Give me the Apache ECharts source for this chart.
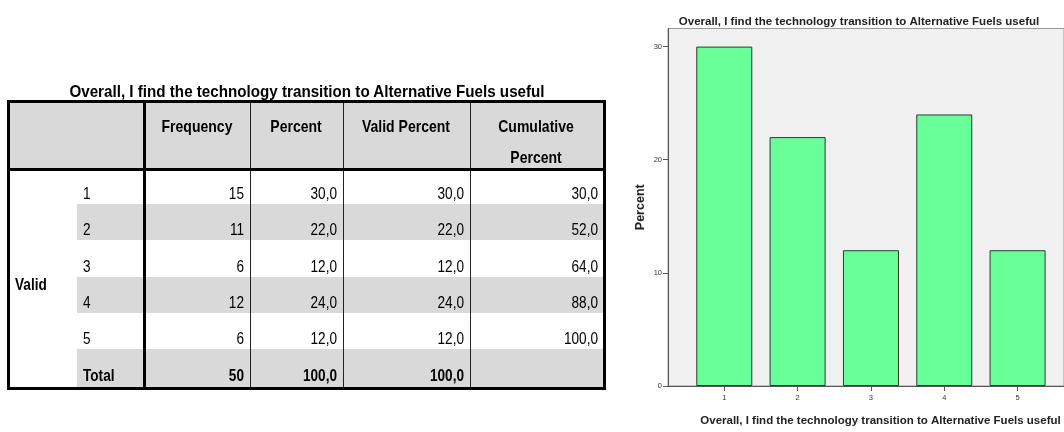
<!DOCTYPE html>
<html>
<head>
<meta charset="utf-8">
<script src="https://cdn.jsdelivr.net/npm/echarts@6/dist/echarts.min.js"></script>
<style>
  html, body { margin: 0; padding: 0; background: #ffffff; }
  #wrap { position: relative; width: 1064px; height: 432px; overflow: hidden; background: #fff; }
  #chart { position: absolute; left: 0; top: 0; width: 1064px; height: 432px; }
  #table { position: absolute; left: 0; top: 0; width: 640px; height: 432px; z-index: 2; }
  .t { position: absolute; white-space: pre; font-family: 'Liberation Sans', Arial, sans-serif; color: #000; }
  .ln { position: absolute; }
</style>
</head>
<body>
<div id="wrap">
  <div id="chart"></div>
  <div id="table"></div>
</div>
<script>
// ---------------- data ----------------
const chartTitle = 'Overall, I find the technology transition to Alternative Fuels useful';
const categories = ['1', '2', '3', '4', '5'];
const frequency = [15, 11, 6, 12, 6];
const percent = [30.0, 22.0, 12.0, 24.0, 12.0];
const validPercent = [30.0, 22.0, 12.0, 24.0, 12.0];
const cumulativePercent = [30.0, 52.0, 64.0, 88.0, 100.0];
const totalFrequency = 50;
const totalPercent = 100.0;
const totalValidPercent = 100.0;
const columnHeaders = ['Frequency', 'Percent', 'Valid Percent', 'Cumulative', 'Percent'];
const groupLabel = 'Valid';
const totalLabel = 'Total';
const yTicks = [0, 10, 20, 30];
const yAxisTitle = 'Percent';

// ---------------- table (HTML) ----------------
const tbl = document.getElementById('table');
function fmt(v) { return v.toFixed(1).replace('.', ','); }
function rect(x, y, w, h, color) {
  const d = document.createElement('div');
  d.className = 'ln';
  d.style.left = x + 'px'; d.style.top = y + 'px';
  d.style.width = w + 'px'; d.style.height = h + 'px';
  d.style.background = color;
  tbl.appendChild(d);
}
function text(str, x, y, align, size, bold, sx) {
  const d = document.createElement('div');
  d.className = 't';
  d.textContent = str;
  const lh = 22;
  d.style.fontSize = size + 'px';
  d.style.lineHeight = lh + 'px';
  d.style.fontWeight = bold ? 'bold' : 'normal';
  d.style.top = (y - lh / 2) + 'px';
  if (align === 'right') {
    d.style.left = (x - 300) + 'px'; d.style.width = '300px'; d.style.textAlign = 'right';
    d.style.transformOrigin = 'right center';
  } else if (align === 'center') {
    d.style.left = (x - 300) + 'px'; d.style.width = '600px'; d.style.textAlign = 'center';
    d.style.transformOrigin = 'center center';
  } else {
    d.style.left = x + 'px'; d.style.textAlign = 'left';
    d.style.transformOrigin = 'left center';
  }
  d.style.transform = 'scaleX(' + sx + ')';
  tbl.appendChild(d);
}

const L = 7, R = 606, T = 100, HB = 168, B = 390;
const rowBounds = [170, 204, 240, 277, 313, 349, 387];
const gray = '#d9d9d9';
// header background
rect(L, T, R - L, HB - T, gray);
// striped rows (2, 4, total)
[1, 3, 5].forEach(i => rect(77, rowBounds[i], R - 77, rowBounds[i + 1] - rowBounds[i], gray));
// thin dividers
[249.5, 342.5, 469.5].forEach(x => rect(x, T, 1, B - T, '#222'));
// thick lines
rect(L, T, R - L, 2.5, '#000');
rect(L, HB, R - L, 2.5, '#000');
rect(L, 387, R - L, 3, '#000');
rect(L, T, 2.8, B - T, '#000');
rect(143, T, 2.8, B - T, '#000');
rect(R - 3, T, 3, B - T, '#000');

// title
text(chartTitle, 307, 91, 'center', 16.5, true, 0.92);
// headers
const hs = 0.85, hsz = 16.5;
text(columnHeaders[0], 197, 126, 'center', hsz, true, hs);
text(columnHeaders[1], 296, 126, 'center', hsz, true, hs);
text(columnHeaders[2], 406, 126, 'center', hsz, true, hs);
text(columnHeaders[3], 536, 126, 'center', hsz, true, hs);
text(columnHeaders[4], 536, 157, 'center', hsz, true, hs);
// body
const bsz = 17, bs = 0.8;
text(groupLabel, 15, 285, 'left', bsz, true, bs);
categories.forEach((c, i) => {
  const cy = rowBounds[i + 1] - 10;
  text(c, 83, cy, 'left', bsz, false, bs);
  text(String(frequency[i]), 244, cy, 'right', bsz, false, bs);
  text(fmt(percent[i]), 337, cy, 'right', bsz, false, bs);
  text(fmt(validPercent[i]), 464, cy, 'right', bsz, false, bs);
  text(fmt(cumulativePercent[i]), 598, cy, 'right', bsz, false, bs);
});
const ty = rowBounds[6] - 11;
text(totalLabel, 83, ty, 'left', bsz, true, bs);
text(String(totalFrequency), 244, ty, 'right', bsz, true, bs);
text(fmt(totalPercent), 337, ty, 'right', bsz, true, bs);
text(fmt(totalValidPercent), 464, ty, 'right', bsz, true, bs);

// ---------------- chart (ECharts) ----------------
const xVals = categories.map(Number);
const chart = echarts.init(document.getElementById('chart'), null, { renderer: 'canvas' });
const font = "'Liberation Sans', Arial, sans-serif";
chart.setOption({
  animation: false,
  backgroundColor: 'transparent',
  title: {
    text: chartTitle,
    left: 854,
    top: 11,
    textAlign: 'center',
    textStyle: { fontFamily: font, fontSize: 11.5, fontWeight: 'bold', color: '#222' }
  },
  grid: {
    left: 668, top: 28.5, right: -5, bottom: 39,
    show: true, backgroundColor: '#f0f0f0', borderColor: '#9a9a9a', borderWidth: 1
  },
  xAxis: {
    type: 'value',
    min: 0.2323, max: 5.633,
    name: chartTitle,
    nameLocation: 'middle',
    nameGap: 29,
    nameTextStyle: { fontFamily: font, fontSize: 11.5, fontWeight: 'bold', color: '#222', padding: [0, 0, 0, 29] },
    axisLine: { show: true, lineStyle: { color: '#555', width: 1 } },
    axisTick: { show: true, length: 5, customValues: xVals, lineStyle: { color: '#555' } },
    axisLabel: { customValues: xVals, fontFamily: font, fontSize: 7.5, color: '#333', margin: 8 },
    splitLine: { show: false }
  },
  yAxis: {
    type: 'value',
    min: 0, max: 31.6,
    name: yAxisTitle,
    nameLocation: 'middle',
    nameGap: 21,
    nameRotate: 90,
    nameTextStyle: { fontFamily: font, fontSize: 12.5, fontWeight: 'bold', color: '#222' },
    axisLine: { show: true, lineStyle: { color: '#555', width: 1 } },
    axisTick: { show: true, length: 5, customValues: yTicks, lineStyle: { color: '#555' } },
    axisLabel: { customValues: yTicks, fontFamily: font, fontSize: 7.5, color: '#333', margin: 6 },
    splitLine: { show: false }
  },
  series: [{
    type: 'bar',
    barWidth: 56,
    data: xVals.map((x, i) => [x, percent[i]]),
    itemStyle: { color: '#69ff99', borderColor: '#333', borderWidth: 1 }
  }]
});
</script>
</body>
</html>
